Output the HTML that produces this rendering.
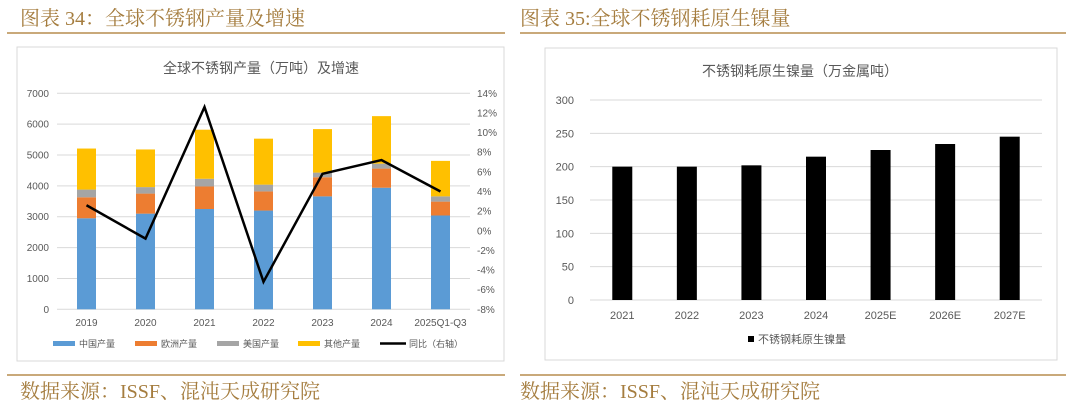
<!DOCTYPE html>
<html><head><meta charset="utf-8">
<style>
body{margin:0;background:#fff;width:1073px;height:408px;overflow:hidden;font-family:"Liberation Sans","Noto Sans CJK SC",sans-serif;}
svg text{font-family:"Liberation Sans","Noto Sans CJK SC",sans-serif;}
svg text.hdr{font-family:"Liberation Serif","Noto Serif CJK SC",serif;}
</style></head>
<body>
<svg id="root" width="1073" height="408" xmlns="http://www.w3.org/2000/svg">
<text class="hdr" x="20" y="25" font-size="20" fill="#A57D3F">图表 34：全球不锈钢产量及增速</text>
<text class="hdr" x="520" y="25" font-size="20" fill="#A57D3F">图表 35:全球不锈钢耗原生镍量</text>
<line x1="7" y1="33" x2="505" y2="33" stroke="#C9A97A" stroke-width="2"/>
<line x1="520" y1="33" x2="1066" y2="33" stroke="#C9A97A" stroke-width="2"/>
<line x1="7" y1="375" x2="505" y2="375" stroke="#C9A97A" stroke-width="2"/>
<line x1="520" y1="375" x2="1066" y2="375" stroke="#C9A97A" stroke-width="2"/>
<text class="hdr" x="20" y="398" font-size="20" fill="#A57D3F">数据来源：ISSF、混沌天成研究院</text>
<text class="hdr" x="520" y="398" font-size="20" fill="#A57D3F">数据来源：ISSF、混沌天成研究院</text>
<rect x="17" y="47" width="487" height="314" fill="#fff" stroke="#D9D9D9"/>
<rect x="545" y="48" width="512" height="312" fill="#fff" stroke="#D9D9D9"/>
<g id="left"></g>
<g id="right"></g>
</svg>
<script>
const cats1=["2019","2020","2021","2022","2023","2024","2025Q1-Q3"];
const china=[2950,3100,3250,3200,3660,3940,3040];
const europe=[680,650,730,620,620,620,450];
const usa=[250,210,250,220,150,160,170];
const other=[1330,1220,1590,1490,1410,1540,1150];
const yoy=[2.6,-0.8,12.6,-5.2,5.8,7.2,4.0];
const leftTicks=[0,1000,2000,3000,4000,5000,6000,7000];
const rightTicks=[-8,-6,-4,-2,0,2,4,6,8,10,12,14];
const cats2=["2021","2022","2023","2024","2025E","2026E","2027E"];
const nickel=[200,200,202,215,225,234,245];
const ticks2=[0,50,100,150,200,250,300];

const NS="http://www.w3.org/2000/svg";
function mk(p,tag,a,txt){const e=document.createElementNS(NS,tag);for(const k in a)e.setAttribute(k,a[k]);if(txt!==undefined)e.textContent=txt;p.appendChild(e);return e;}

const L=document.getElementById('left');
const x0=57,x1=470,yB=309.3,yT=93.3;
const yL=v=>yB-(v/7000)*(yB-yT);
const yR=v=>yB-((v+8)/22)*(yB-yT);
const bw1=(x1-x0)/cats1.length;
const xc1=i=>x0+bw1*(i+0.5);
let t=mk(L,'text',{x:261,y:73,'font-size':14,fill:'#595959','text-anchor':'middle'},'全球不锈钢产量（万吨）及增速');


leftTicks.forEach(v=>{
 const l=mk(L,'line',{x1:x0,x2:x1,y1:yL(v),y2:yL(v),stroke:'#D9D9D9'});
 
 
 const tx=mk(L,'text',{x:49,y:yL(v)+3.5,'font-size':10,fill:'#595959','text-anchor':'end'},v);
 
 
});
rightTicks.forEach(v=>{
 const tx=mk(L,'text',{x:477,y:yR(v)+3.5,'font-size':10,fill:'#595959'},v+'%');
 
 
});
const series=[[china,'#5B9BD5','china'],[europe,'#ED7D31','europe'],[usa,'#A5A5A5','usa'],[other,'#FFC000','other']];
cats1.forEach((c,i)=>{
 let acc=0;
 series.forEach(([arr,col,nm])=>{
  const r=mk(L,'rect',{x:xc1(i)-9.5,y:yL(acc+arr[i]),width:19,height:yL(acc)-yL(acc+arr[i]),fill:col});
  
  
  acc+=arr[i];
 });
 const tx=mk(L,'text',{x:xc1(i),y:326,'font-size':10,fill:'#595959','text-anchor':'middle'},c);
 
 
});
const pl=mk(L,'polyline',{points:yoy.map((v,i)=>xc1(i)+','+yR(v)).join(' '),fill:'none',stroke:'#000','stroke-width':2.5,'stroke-linejoin':'miter'});


const leg=[['#5B9BD5','中国产量',53],['#ED7D31','欧洲产量',135],['#A5A5A5','美国产量',217],['#FFC000','其他产量',298],['#000','同比（右轴）',380]];
leg.forEach(([col,lab,x],k)=>{
 const g=mk(L,'g',{});
 
 
 if(k<4) mk(g,'rect',{x:x,y:341,width:22,height:5,fill:col});
 else mk(g,'line',{x1:x,x2:x+26,y1:343.5,y2:343.5,stroke:col,'stroke-width':2.5});
 mk(g,'text',{x:x+(k<4?26:29),y:347,'font-size':9,fill:'#595959'},lab);
});

const R=document.getElementById('right');
const rx0=590,rx1=1042,ryB=300,ryT=100;
const y2=v=>ryB-(v/300)*(ryB-ryT);
const bw2=(rx1-rx0)/cats2.length;
const xc2=i=>rx0+bw2*(i+0.5);
t=mk(R,'text',{x:800,y:76,'font-size':14,fill:'#595959','text-anchor':'middle'},'不锈钢耗原生镍量（万金属吨）');


ticks2.forEach(v=>{
 const l=mk(R,'line',{x1:rx0,x2:rx1,y1:y2(v),y2:y2(v),stroke:'#D9D9D9'});
 
 
 const tx=mk(R,'text',{x:574,y:y2(v)+4,'font-size':11,fill:'#595959','text-anchor':'end'},v);
 
 
});
cats2.forEach((c,i)=>{
 const r=mk(R,'rect',{x:xc2(i)-10,y:y2(nickel[i]),width:20,height:y2(0)-y2(nickel[i]),fill:'#000'});
 
 
 const tx=mk(R,'text',{x:xc2(i),y:319,'font-size':11,fill:'#595959','text-anchor':'middle'},c);
 
 
});
const g2=mk(R,'g',{});


mk(g2,'rect',{x:748,y:336,width:6,height:6,fill:'#000'});
mk(g2,'text',{x:758,y:343,'font-size':11,fill:'#595959'},'不锈钢耗原生镍量');
</script>
</body></html>
